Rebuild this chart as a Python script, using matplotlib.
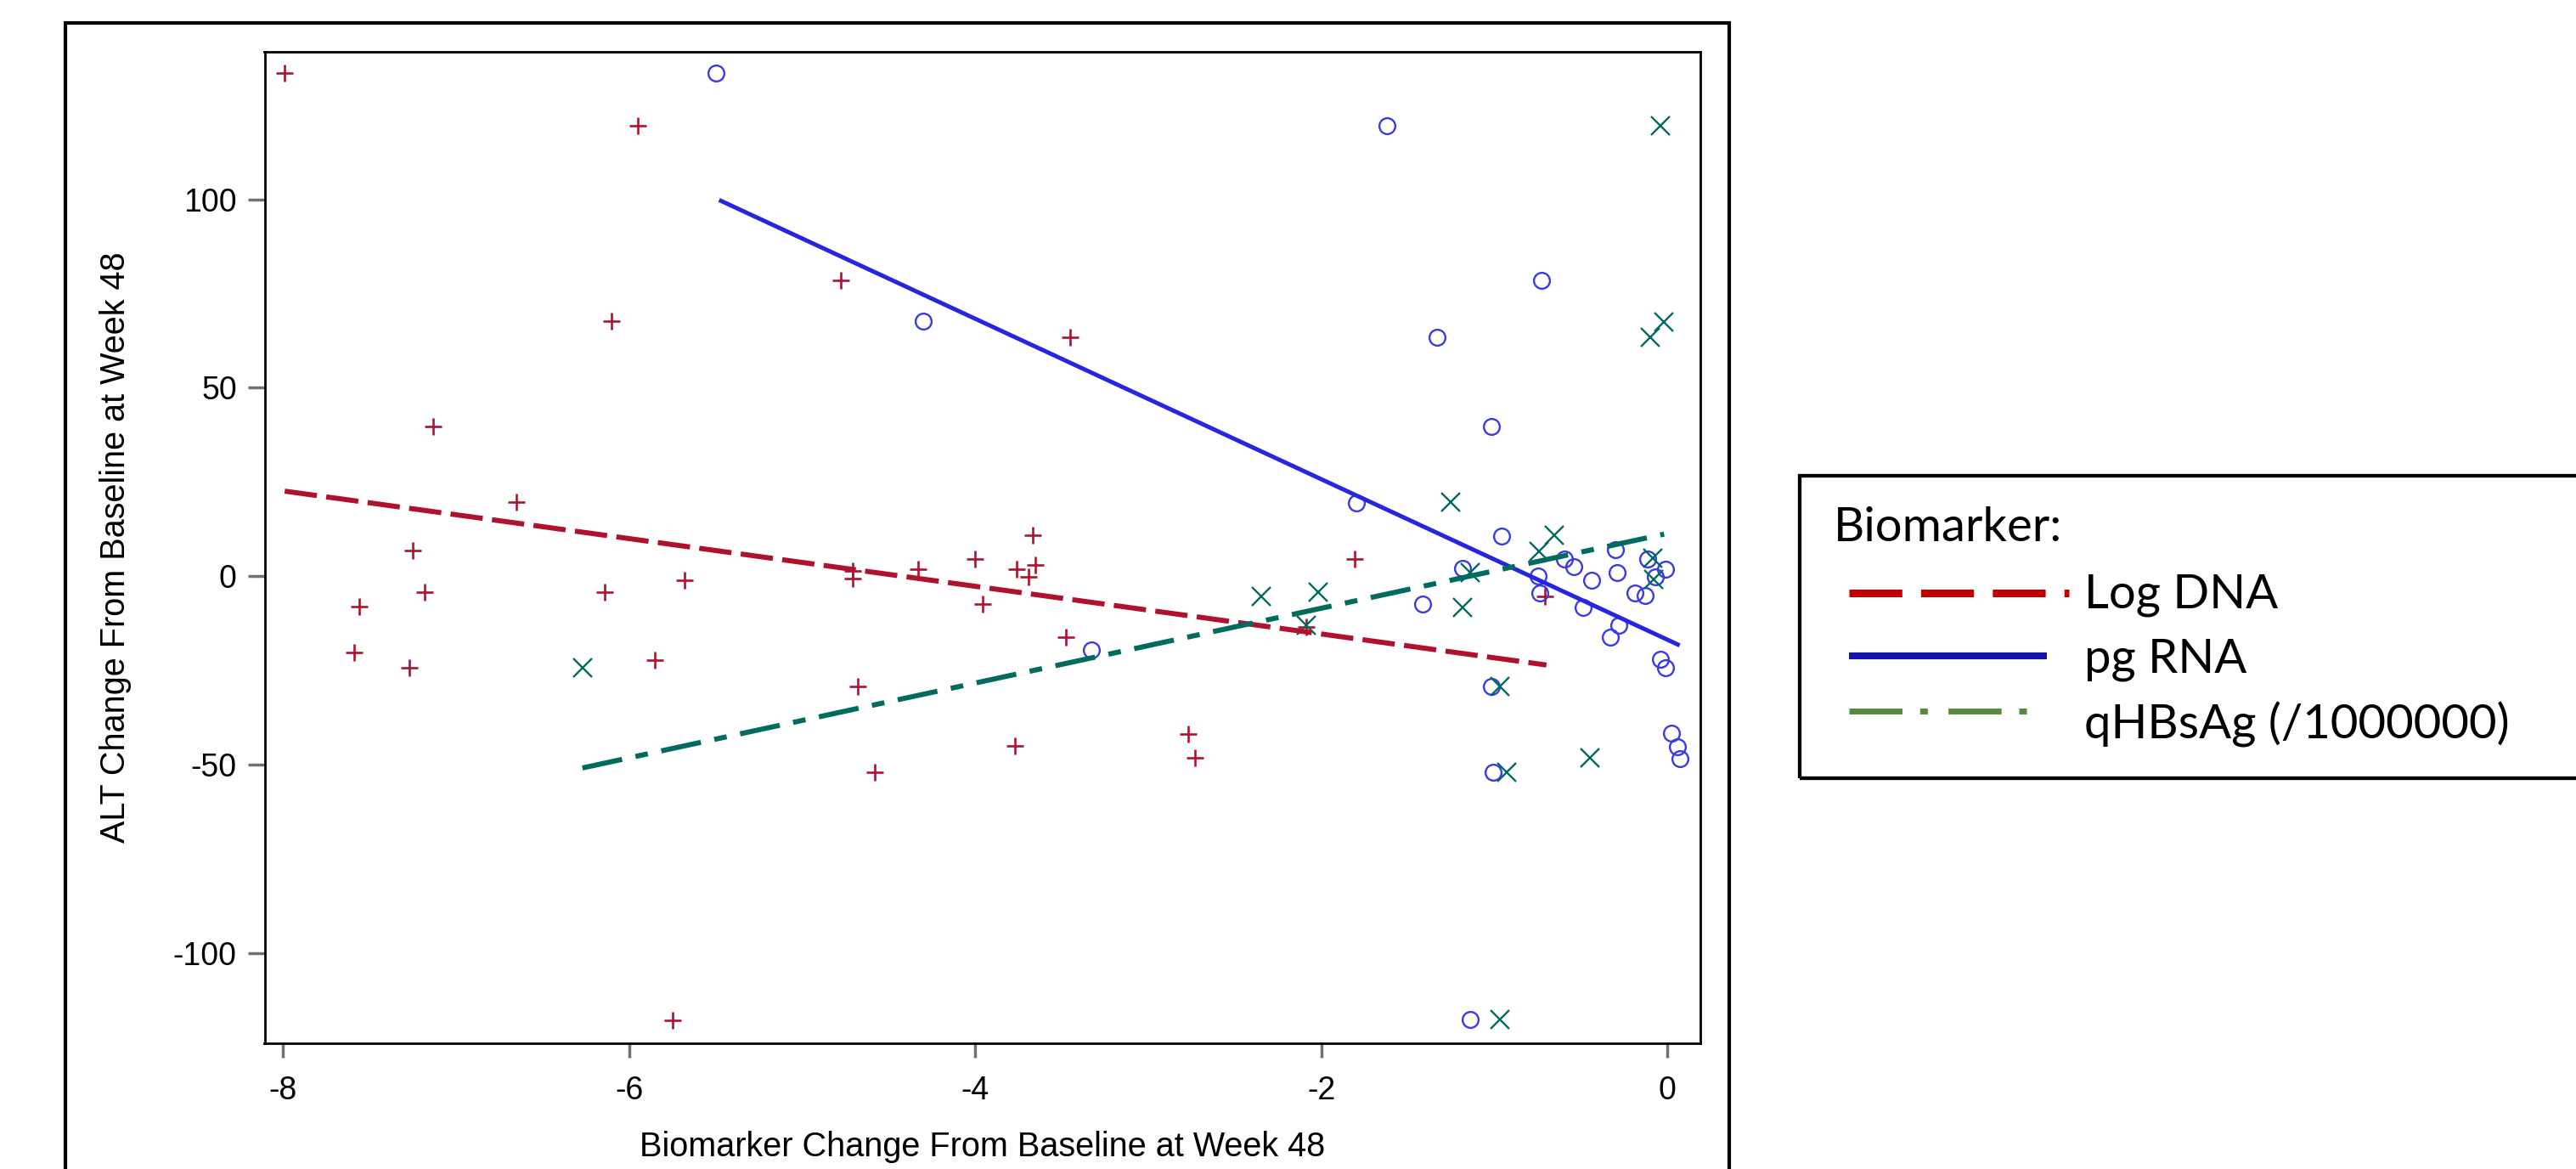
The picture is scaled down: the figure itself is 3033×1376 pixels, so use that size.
import matplotlib
matplotlib.use('Agg')
import matplotlib.pyplot as plt
from matplotlib.lines import Line2D
from matplotlib.patches import Rectangle

plt.rcParams['font.family'] = ['Liberation Sans', 'DejaVu Sans']
plt.rcParams['axes.unicode_minus'] = False

# ---------------- data ----------------
# Log DNA (red +)
dna_x = [-7.99, -5.95, -4.775, -6.10, -7.13, -6.65, -7.25, -5.68, -4.71, -4.71,
         -4.33, -7.18, -7.56, -6.14, -7.59, -7.27, -5.85, -4.68, -4.58, -5.75,
         -3.45, -1.81, -3.67, -4.00, -3.76, -3.655, -3.69, -3.955, -3.475, -3.77,
         -2.77, -2.73, -2.09, -0.71]
dna_y = [133.4, 119.5, 78.6, 67.6, 39.7, 19.7, 6.8, -1.0, 1.5, -0.5,
         1.9, -4.2, -8.1, -4.2, -20.1, -24.2, -22.1, -29.1, -52.0, -117.8,
         63.5, 4.7, 10.9, 4.7, 1.9, 3.0, -0.1, -7.3, -16.2, -45.0,
         -41.8, -48.1, -13.5, -5.4]

# pg RNA (blue o)
rna_x = [-5.50, -4.30, -1.62, -0.73, -1.33, -1.02, -1.80, -0.958, -1.184, -1.417,
         -0.749, -0.74, -0.594, -0.54, -0.44, -0.49, -0.30, -0.29, -0.28, -0.33,
         -0.115, -0.01, -0.07, -0.19, -0.13, -0.04, -0.014, -1.02, -1.007, -1.14,
         -3.33, 0.025, 0.057, 0.074]
rna_y = [133.4, 67.6, 119.4, 78.6, 63.5, 39.7, 19.5, 10.7, 2.1, -7.3,
         0.2, -4.3, 4.7, 2.6, -1.1, -8.2, 7.1, 1.0, -12.9, -16.2,
         4.7, 1.9, -0.1, -4.3, -5.0, -21.9, -24.3, -29.1, -52.0, -117.6,
         -19.5, -41.6, -45.1, -48.3]

# qHBsAg (teal x)
hbs_x = [-6.27, -0.04, -0.02, -0.10, -1.253, -0.656, -0.745, -1.139, -0.083, -0.078,
         -1.183, -0.97, -0.93, -0.447, -2.35, -2.02, -2.09, -0.97]
hbs_y = [-24.2, 119.4, 67.5, 63.5, 19.7, 10.9, 6.6, 1.0, 4.9, -0.9,
         -8.2, -29.1, -52.0, -48.1, -5.2, -4.1, -12.9, -117.6]

# fitted regression lines (end points)
dna_fit_x = [-7.99, -0.70]
dna_fit_y = [22.6, -23.5]
rna_fit_x = [-5.48, 0.07]
rna_fit_y = [99.8, -18.3]
hbs_fit_x = [-6.27, -0.02]
hbs_fit_y = [-50.8, 11.2]

x_ticks = [-8, -6, -4, -2, 0]
y_ticks = [-100, -50, 0, 50, 100]
x_label = 'Biomarker Change From Baseline at Week 48'
y_label = 'ALT Change From Baseline at Week 48'
legend_title = 'Biomarker:'
legend_labels = ['Log DNA', 'pg RNA', 'qHBsAg (/1000000)']

# ---------------- layout (pixels of the 3033x1376 picture) ----------------
W, H, DPI = 3033, 1376, 100

def fx(px):
    return px / W

def fy(py):
    return 1 - py / H

red = '#B0122E'
blue = '#2626E0'
teal = '#006B5E'

fig = plt.figure(figsize=(W / DPI, H / DPI), dpi=DPI)
ax = fig.add_axes([fx(311.5), fy(1228), (2001.7 - 311.5) / W, (1228 - 60.5) / H])

# markers
ax.plot(dna_x, dna_y, ls='none', marker='+', ms=14.5, mew=1.9, color=red, zorder=3)
ax.plot(rna_x, rna_y, ls='none', marker='o', ms=13.5, mew=1.7, mfc='none',
        mec='#3A3AE6', zorder=3)
ax.plot(hbs_x, hbs_y, ls='none', marker='x', ms=15.5, mew=1.7, color=teal, zorder=3)

# fit lines
ax.plot(dna_fit_x, dna_fit_y, color=red, lw=4.3, ls=(0, (6.4, 1.85)),
        dash_capstyle='butt', zorder=4)
ax.plot(rna_fit_x, rna_fit_y, color=blue, lw=3.6, solid_capstyle='butt', zorder=4)
ax.plot(hbs_fit_x, hbs_fit_y, color=teal, lw=4.3, ls=(0, (8.0, 2.7, 2.5, 2.7)),
        dash_capstyle='butt', zorder=4)

ax.set_xlim(-8.1065, 0.188)
ax.set_ylim(-123.8, 139.2)
ax.set_xticks(x_ticks)
ax.set_yticks(y_ticks)
ax.tick_params(axis='both', direction='out', color='#707070', width=2.5,
               labelsize=27, labelcolor='black')
ax.tick_params(axis='x', length=12.5, pad=15)
ax.tick_params(axis='y', length=14.5, pad=9)
for sp in ax.spines.values():
    sp.set_linewidth(2.0)
    sp.set_color('black')

ax.set_xlabel(x_label, fontsize=28.5)
ax.xaxis.label.set_va('baseline')
ax.xaxis.set_label_coords(0.5, -(1361 - 1228) / (1228 - 60.5))
ax.set_ylabel(y_label, fontsize=28.5)
ax.yaxis.label.set_va('baseline')
ax.yaxis.set_label_coords(-(311.5 - 147) / (2001.7 - 311.5), 0.5)

# outer frame round the graph
fig.add_artist(Rectangle((fx(77), -0.2), (2036 - 77) / W, fy(27) + 0.2,
                         transform=fig.transFigure, fill=False, lw=3.0,
                         ec='black', clip_on=False))

# legend box (added outside the graph)
fig.add_artist(Rectangle((fx(2119), fy(916)), 0.5, (916 - 560) / H,
                         transform=fig.transFigure, fill=False, lw=3.1,
                         ec='black', clip_on=False))
leg_font = ['Lato', 'DejaVu Sans']
fig.text(fx(2159), fy(637), legend_title, family=leg_font, size=40.5, va='baseline')

leg_styles = [
    dict(color='#C00000', lw=6.5, ls=(0, (6.9, 2.45)), dash_capstyle='butt', x1=2436, y=698),
    dict(color='#1414AA', lw=5.8, ls='-', solid_capstyle='butt', x1=2410, y=772),
    dict(color='#578A3A', lw=5.0, ls=(0, (9.0, 3.0, 1.3, 3.5)), dash_capstyle='butt', x1=2386, y=837),
]
leg_baselines = [715, 792, 869]
for label, st, base in zip(legend_labels, leg_styles, leg_baselines):
    st = dict(st)
    x1 = st.pop('x1')
    y = st.pop('y')
    fig.add_artist(Line2D([fx(2177), fx(x1)], [fy(y), fy(y)],
                          transform=fig.transFigure, **st))
    fig.text(fx(2454), fy(base), label, family=leg_font, size=40.5, va='baseline')

fig.savefig('out.png', dpi=DPI)
